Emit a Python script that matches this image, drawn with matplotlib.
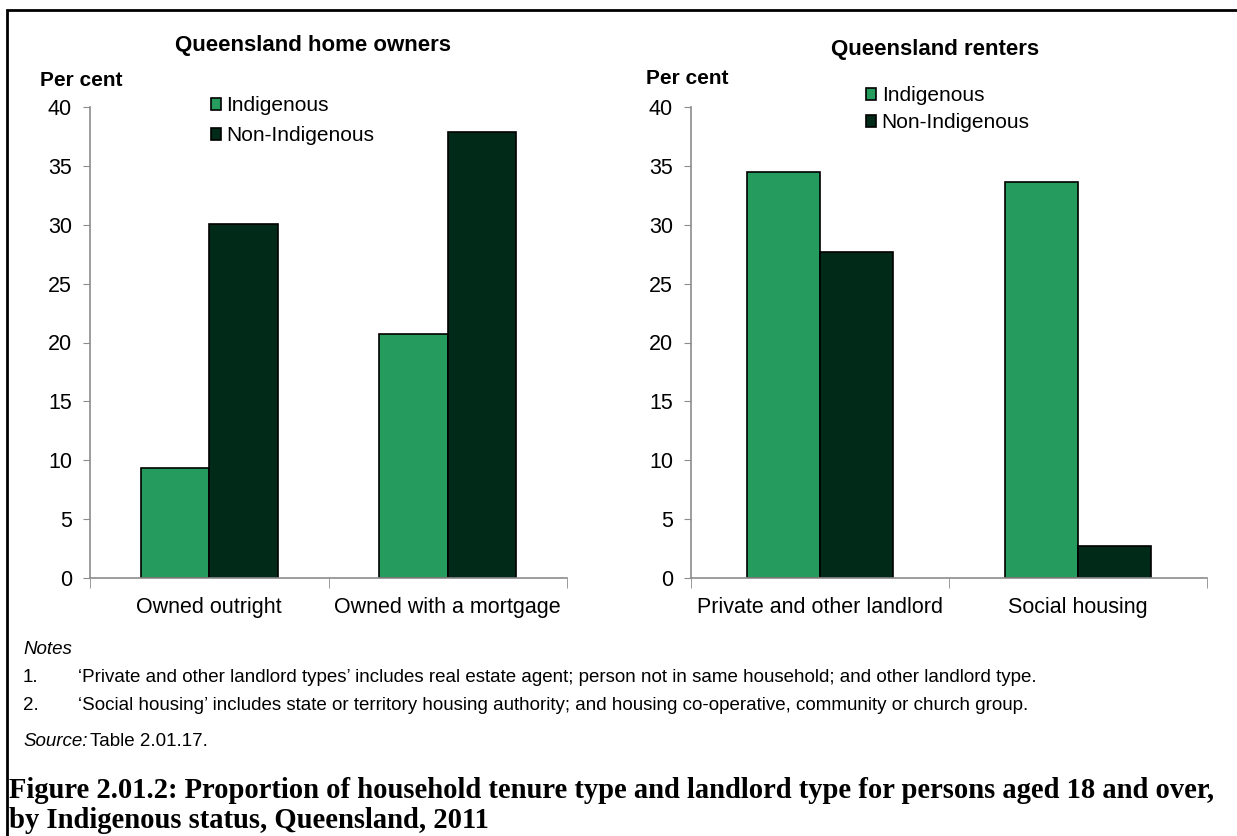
import numpy as np
import matplotlib
matplotlib.use('Agg')
import matplotlib.pyplot as plt
from matplotlib.patches import Patch, Rectangle

plt.rcParams['font.family'] = ['Liberation Sans', 'DejaVu Sans']

# data
owner_cats = ['Owned outright', 'Owned with a mortgage']
owner_indig = [9.3, 20.7]
owner_non = [30.1, 37.9]

renter_cats = ['Private and other landlord', 'Social housing']
renter_indig = [34.5, 33.6]
renter_non = [27.7, 2.7]

series_names = ['Indigenous', 'Non-Indigenous']
yticks = [0, 5, 10, 15, 20, 25, 30, 35, 40]

notes = [
    '\u2018Private and other landlord types\u2019 includes real estate agent; person not in same household; and other landlord type.',
    '\u2018Social housing\u2019 includes state or territory housing authority; and housing co-operative, community or church group.',
]

GREEN = '#269B5E'
DARK = '#022A19'
AXC = '#8c8c8c'

W, H = 1237, 836
fig = plt.figure(figsize=(W / 100, H / 100), dpi=100)


def px(x, y):
    return x / W, 1 - y / H


def panel(rect, cats, indig, non, title, title_xy, pc_xy, leg_xy, leg_space, bw):
    ax = fig.add_axes(rect)
    x = np.arange(len(cats))
    ax.bar(x - bw / 2, indig, bw, color=GREEN, edgecolor='black', linewidth=1.2)
    ax.bar(x + bw / 2, non, bw, color=DARK, edgecolor='black', linewidth=1.2)
    ax.set_xlim(-0.5, len(cats) - 0.5)
    ax.set_ylim(0, 40)
    ax.set_yticks(yticks)
    ax.tick_params(axis='y', labelsize=15.5, length=5, color=AXC, pad=8)
    ax.set_xticks(x)
    ax.set_xticklabels(cats, fontsize=15.5)
    ax.tick_params(axis='x', length=0, pad=14)
    ax.set_xticks(np.arange(len(cats) + 1) - 0.5, minor=True)
    ax.tick_params(axis='x', which='minor', length=7, color=AXC)
    for s in ['top', 'right']:
        ax.spines[s].set_visible(False)
    for s in ['left', 'bottom']:
        ax.spines[s].set_color(AXC)
        ax.spines[s].set_linewidth(1.2)
    fig.text(*px(*title_xy), title, fontsize=16, fontweight='bold', ha='center', va='center')
    fig.text(*px(*pc_xy), 'Per cent', fontsize=15, fontweight='bold', ha='left', va='center')
    handles = [Patch(facecolor=GREEN, edgecolor='black', linewidth=1.2),
               Patch(facecolor=DARK, edgecolor='black', linewidth=1.2)]
    fig.legend(handles, series_names, loc='upper left', bbox_to_anchor=px(*leg_xy),
               frameon=False, fontsize=15, handlelength=0.5, handleheight=0.5,
               handletextpad=0.25, labelspacing=leg_space, borderpad=0, borderaxespad=0)
    return ax


panel([90 / W, 1 - 578 / H, 477 / W, 471 / H], owner_cats, owner_indig, owner_non,
      'Queensland home owners', (313, 46), (40, 80), (211, 96), 0.55, 0.287)
panel([691 / W, 1 - 578 / H, 516 / W, 471 / H], renter_cats, renter_indig, renter_non,
      'Queensland renters', (935, 50), (646, 78), (866, 86), 0.4, 0.283)

# notes and source
fs = 13.5
fig.text(*px(23, 650), 'Notes', fontsize=fs, style='italic', va='center')
for i, n in enumerate(notes):
    fig.text(*px(23, 677 + 28 * i), f'{i + 1}.', fontsize=fs, va='center')
    fig.text(*px(78, 677 + 28 * i), n, fontsize=fs, va='center')
fig.text(*px(23, 742), 'Source:', fontsize=fs, style='italic', va='center')
fig.text(*px(90, 742), 'Table 2.01.17.', fontsize=fs, va='center')

cap_kw = dict(fontsize=20.6, fontweight='bold', va='center', family=['Liberation Serif', 'DejaVu Serif'])
fig.text(*px(9, 790), 'Figure 2.01.2: Proportion of household tenure type and landlord type for persons aged 18 and over,', **cap_kw)
fig.text(*px(9, 820), 'by Indigenous status, Queensland, 2011', **cap_kw)

# outer frame (right and bottom edges fall outside the image)
fig.patches.append(Rectangle(px(7, 900), 1.5, (900 - 10) / H, transform=fig.transFigure,
                             fill=False, edgecolor='black', linewidth=2))

fig.savefig('out.png', dpi=100)
